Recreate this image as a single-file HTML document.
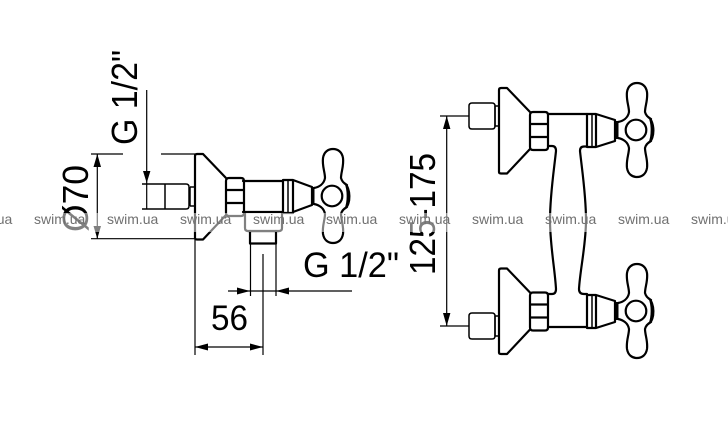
<!DOCTYPE html>
<html><head><meta charset="utf-8"><style>
html,body{margin:0;padding:0;background:#fff;width:728px;height:443px;overflow:hidden}
svg{display:block}
text{font-family:"Liberation Sans",sans-serif;fill:#000}
.t{fill:none;stroke:#000;stroke-width:2.2;stroke-linejoin:round;stroke-linecap:round}
.m{fill:none;stroke:#000;stroke-width:1.5;stroke-linejoin:round}
.d{fill:none;stroke:#000;stroke-width:1.2}
.w{font-size:14px;fill:#707070}
</style></head><body>
<svg width="728" height="443" viewBox="0 0 728 443" xmlns="http://www.w3.org/2000/svg">
<defs>
<g id="handle">
<path class="t" d="M-19,-8 C-14,-9 -9,-12 -8,-18 C-8,-24 -11,-30 -10,-38 C-9,-44 -5,-47 0,-47 C5,-47 9,-44 10,-38 C11,-30 8,-24 8,-18 C9,-14 12,-12 14,-11 M-19,8 C-14,9 -9,12 -8,18 C-8,24 -11,30 -10,38 C-9,44 -5,47 0,47 C5,47 9,44 10,38 C11,30 8,24 8,18 C9,14 12,12 14,11"/>
<circle cx="-1" cy="0" r="10.3" fill="#fff" stroke="#000" stroke-width="2.2"/>
<path d="M12,-13 C18,-9 19,9 12,13 C15,6 15,-6 12,-13Z" fill="#000" stroke="#000" stroke-width="1.2"/>
<path d="M-20,-9 V9" stroke="#000" stroke-width="3" fill="none"/>
</g>
<g id="rosebody">
<path class="t" d="M499,172 V90 Q499,88 501,88 H507 L530,112 M499,172 Q499,173.500 501,173.500 H507 L530,149"/>
<path class="t" d="M530,115 Q530,112 533,112 H545 Q548,112 548,115 V147 Q548,150 545,150 H533 Q530,150 530,147 Z M530,124 H548 M530,137 H548" stroke-width="2"/>
</g>
<g id="stub">
<path class="m" d="M495,106 H499 V126 H495 Z" stroke-width="1.300"/>
<path class="m" d="M492,103 H472 Q469,103 469,106 V126 Q469,129 472,129 H492 Q495,129 495,126 V106 Q495,103 492,103Z"/>
</g>
<g id="arm">
<path class="t" d="M587,114 H596 V147 H587 Z M596,114 L615,120 V141 L596,147" />
<path class="m" d="M592,114 V147" stroke-width="1.800"/>
</g>
</defs>

<!-- left drawing -->
<use href="#rosebody" transform="translate(-304,66)"/>
<path class="m" d="M142,184 H186 Q189,184 189,187 V206 Q189,209 186,209 H142 M165,184 V209 M190,187 H195 M190,206 H195 M190,187 V206"/>
<path class="t" d="M243,181 H283 V212 H243 M283,180 H293 V213 H283 M293,180 L312,187 V205 L293,212"/>
<path class="m" d="M288,180 V213" stroke-width="1.800"/>
<use href="#handle" x="333" y="196"/>
<path class="t" d="M245,213 V228 Q245,231 248,231 H279 Q282,231 282,228 V213"/>
<path class="t" d="M250,231 V243.500 H276 V231"/>

<!-- left dims -->
<path class="d" d="M91,154 H123 M161,154 H195 M91,238.700 H195 M97.300,154 V239"/>
<path d="M97.300,154 L93.500,167 H101 Z M97.300,238.700 L93.500,226 H101 Z M146.700,183 L143,171 H150.400 Z" fill="#000"/>
<path class="d" d="M146.700,90 V209"/>
<path class="d" d="M195,238 V355 M263,254 V355 M250.500,244 V296 M276,244 V296 M228,291 H250 M276,291 H352 M250,291 H276 M195,347 H263" />
<path d="M250,291 L237,287.500 V294.500 Z M276,291 L289,287.500 V294.500 Z M195,347 L208,343.500 V350.500 Z M263,347 L250,343.500 V350.500 Z" fill="#000"/>

<!-- right drawing -->
<use href="#rosebody"/>
<use href="#stub"/>
<use href="#rosebody" y="180.500"/>
<use href="#stub" y="210"/>
<use href="#arm"/>
<use href="#arm" y="181"/>
<use href="#handle" x="637" y="130"/>
<use href="#handle" x="637" y="311"/>
<path class="t" d="M548,114 H587 M548,327 H587"/>
<path class="t" d="M548,146 H552 Q556,146 556,151 C554,170 550,195 550,220 C550,245 555,270 556,289 Q556,294 552,294 H548"/>
<path class="t" d="M587,146.500 H584 Q580,146.500 580,151 C582,170 586,195 586,220 C586,245 580,270 579,289 Q579,294 584,294 H587"/>
<path class="d" d="M440,116 H469 M440,326 H469 M446.700,116 V326"/>
<path d="M446.700,116 L443,129 H450.400 Z M446.700,326 L443,313 H450.400 Z" fill="#000"/>

<!-- dimension text -->
<text transform="translate(137,145) rotate(-90)" font-size="36" textLength="95" lengthAdjust="spacingAndGlyphs">G 1/2"</text>
<text transform="translate(88,232) rotate(-90)" font-size="36" textLength="67" lengthAdjust="spacingAndGlyphs">Ø70</text>
<text transform="translate(435,275) rotate(-90)" font-size="36" textLength="122" lengthAdjust="spacingAndGlyphs">125-175</text>
<text x="303" y="277" font-size="35" textLength="96" lengthAdjust="spacingAndGlyphs">G 1/2"</text>
<text x="211" y="330" font-size="35" textLength="37" lengthAdjust="spacingAndGlyphs">56</text>

<!-- watermark -->
<rect x="0" y="213" width="728" height="19" fill="#fff" opacity="0.5"/>
<text class="w" x="-39" y="224">swim.ua</text>
<text class="w" x="34" y="224">swim.ua</text>
<text class="w" x="107" y="224">swim.ua</text>
<text class="w" x="180" y="224">swim.ua</text>
<text class="w" x="253" y="224">swim.ua</text>
<text class="w" x="326" y="224">swim.ua</text>
<text class="w" x="399" y="224">swim.ua</text>
<text class="w" x="472" y="224">swim.ua</text>
<text class="w" x="545" y="224">swim.ua</text>
<text class="w" x="618" y="224">swim.ua</text>
<text class="w" x="691" y="224">swim.ua</text>
</svg>
</body></html>
